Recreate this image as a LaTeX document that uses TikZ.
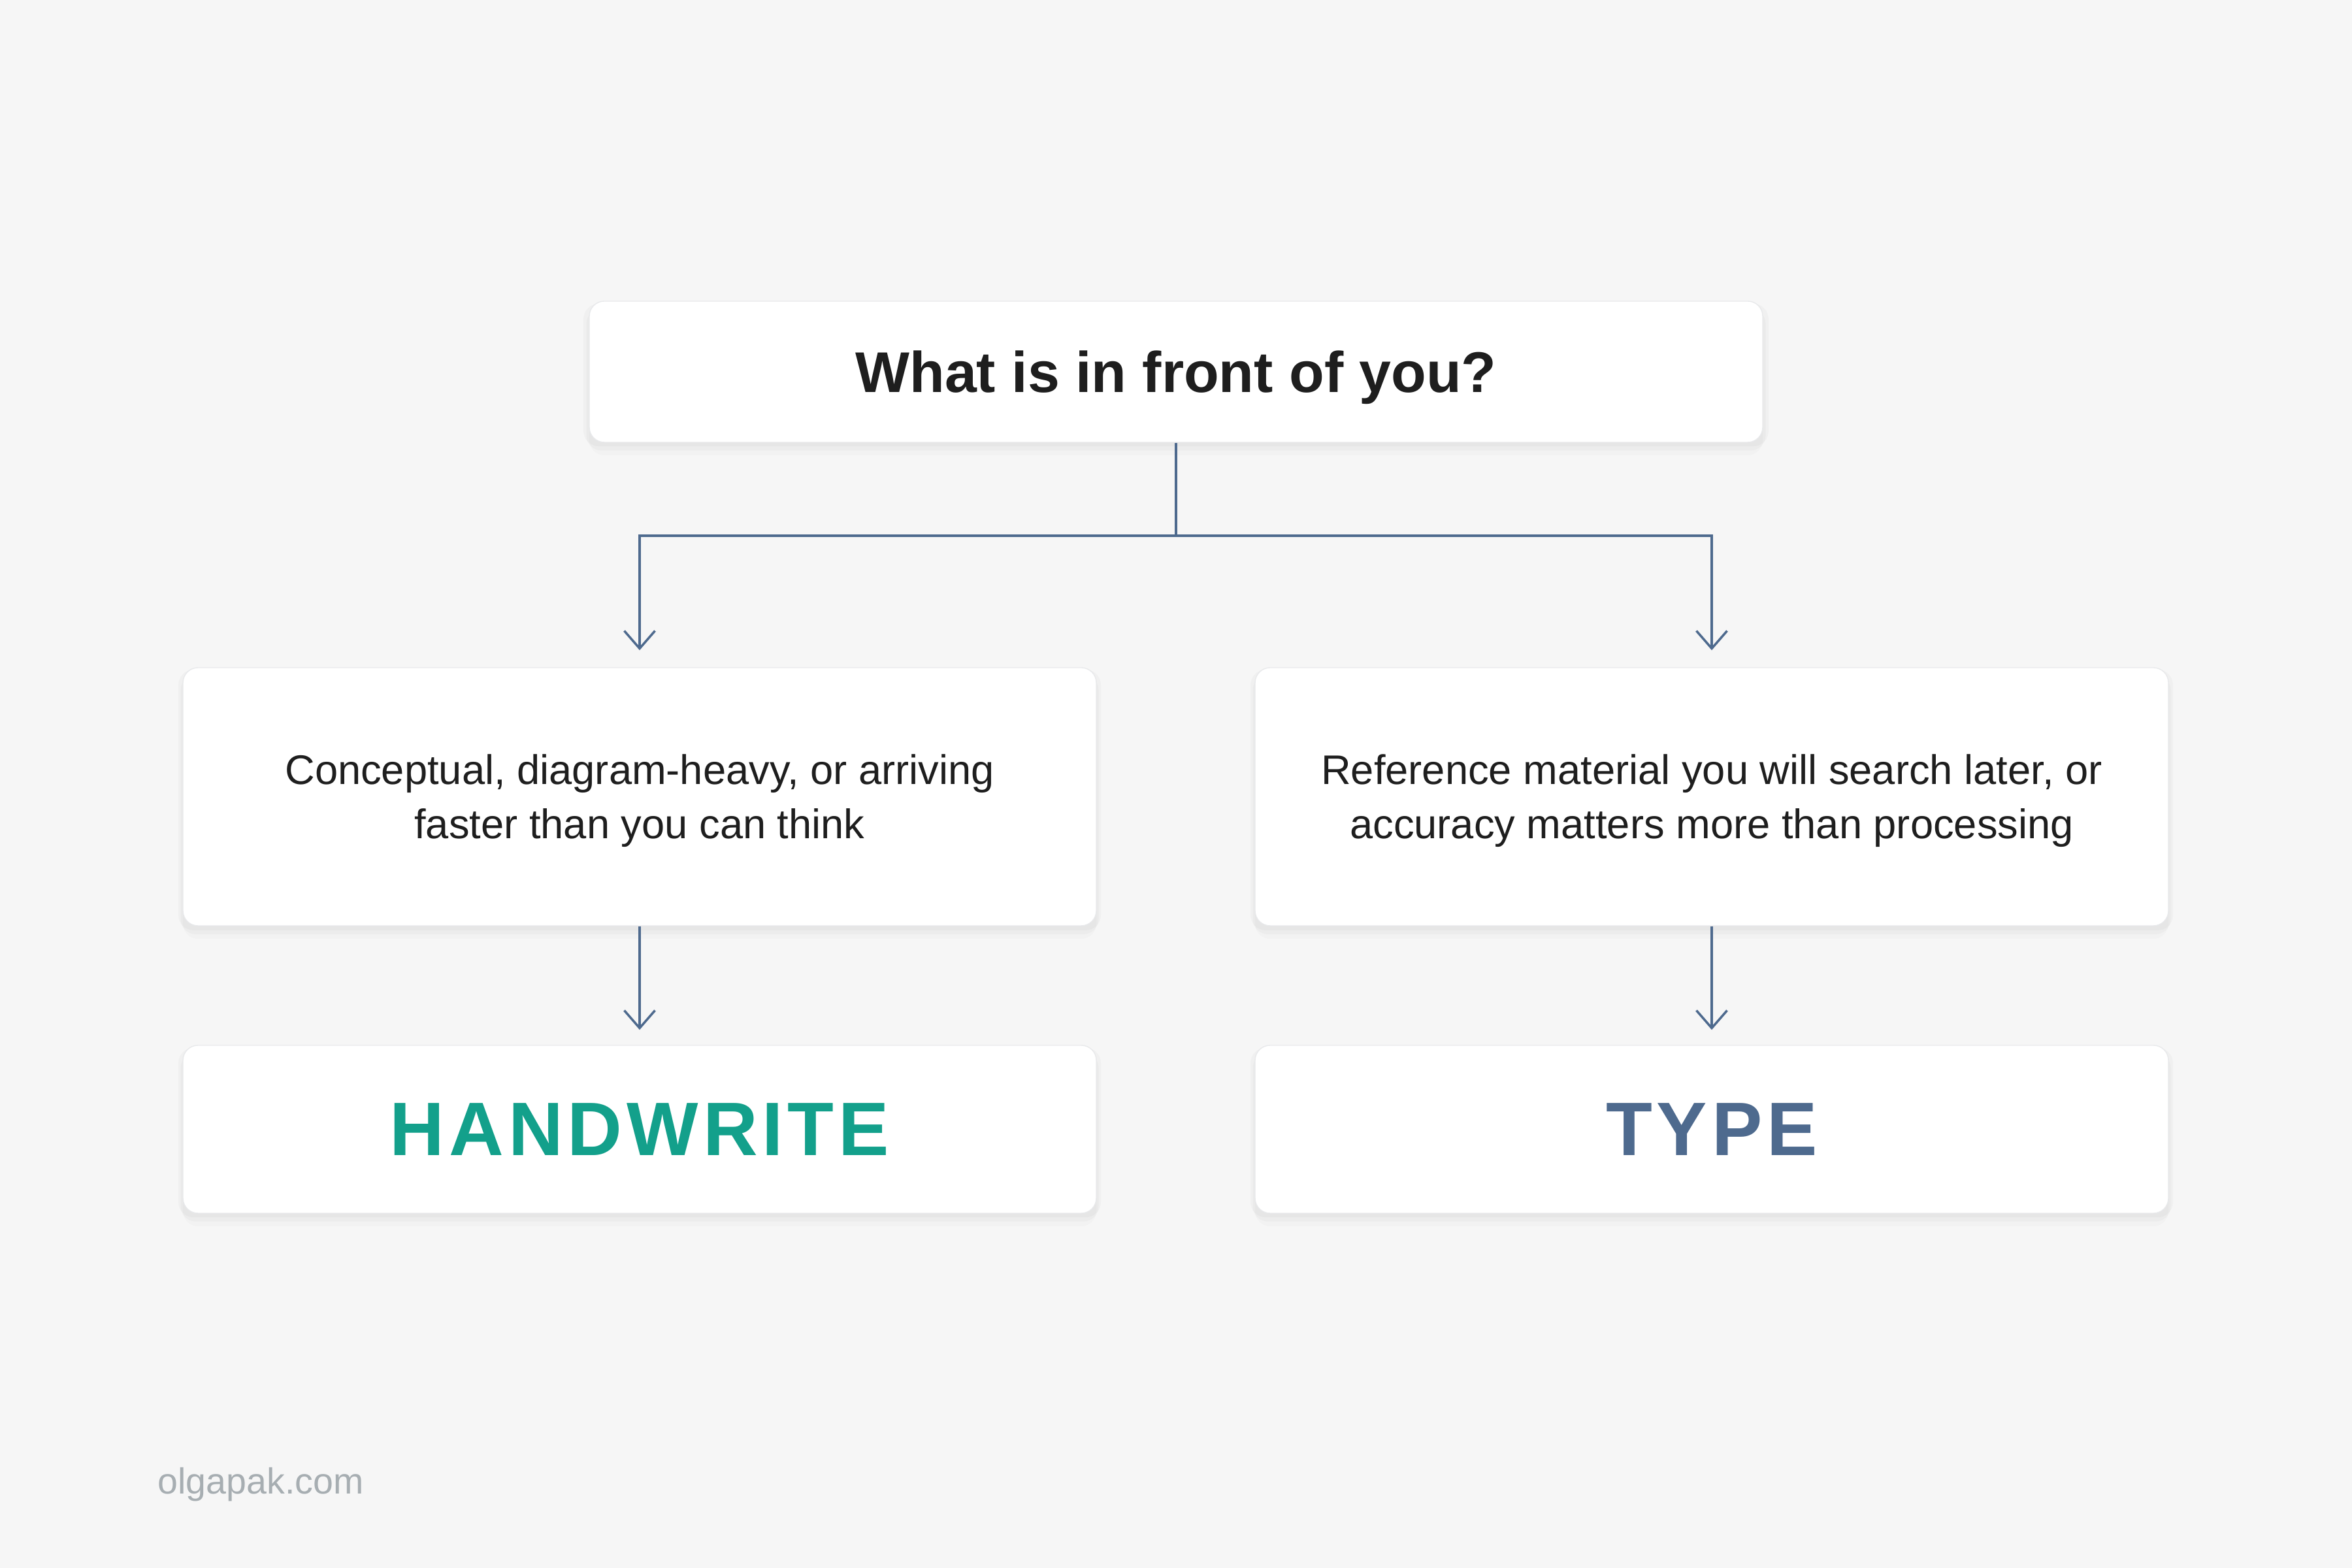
\documentclass[tikz,border=0pt]{standalone}
\usepackage{fontspec}
\setmainfont{Liberation Sans}
\newfontfamily\spacedfont[LetterSpace=6]{Liberation Sans}
\usepackage{tikz}
\usetikzlibrary{positioning}
\usetikzlibrary{shadows, arrows.meta}
\definecolor{bgcol}{HTML}{F6F6F6}
\definecolor{edgecol}{HTML}{E8E9EB}
\definecolor{linecol}{HTML}{4E6A8E}
\definecolor{tealcol}{HTML}{13A08B}
\definecolor{textcol}{HTML}{1E1E1E}
\definecolor{markcol}{HTML}{A7AEB2}
\tikzstyle{card} = [rectangle, rounded corners=0.23cm, draw=edgecol, line width=0.4pt, fill=white, drop shadow={shadow xshift=0cm, shadow yshift=-0.05cm, shadow scale=1.01, opacity=0.025, fill=black}, drop shadow={shadow xshift=0cm, shadow yshift=-0.12cm, shadow scale=1.005, opacity=0.025, fill=black}, drop shadow={shadow xshift=0cm, shadow yshift=-0.2cm, opacity=0.015, fill=black}, align=center, inner sep=0pt, text=textcol]
\tikzstyle{line} = [draw=linecol, line width=1pt]
\tikzstyle{arrow} = [line, -{Straight Barb[length=0.27cm, width=0.47cm]}]

\begin{document}
\begin{tikzpicture}
      \fill[bgcol] (0,0) rectangle (36,24);
      \useasboundingbox (0,0) rectangle (36,24);
      %%%%%%%%%%%%%%%%%%%%%%%%%%%%%%%%%%%%%%%
      \node[card, minimum width=17.96cm, minimum height=2.16cm, text depth=0pt, font=\fontsize{25}{30}\selectfont\bfseries] (q) at (18,18.31) {What is in front of you?};
      \node[card, minimum width=13.98cm, minimum height=3.95cm, text depth=0pt, font=\fontsize{18}{23.6}\selectfont] (c1) at (9.79,11.805) {Conceptual, diagram-heavy, or arriving\\faster than you can think};
      \node[card, minimum width=13.98cm, minimum height=3.95cm, text depth=0pt, font=\fontsize{18}{23.6}\selectfont] (c2) at (26.2,11.805) {Reference material you will search later, or\\accuracy matters more than processing};
      \node[card, minimum width=13.98cm, minimum height=2.57cm, font=\spacedfont\bfseries\fontsize{33}{40}\selectfont, text=tealcol] (hw) at (9.79,6.715) {HANDWRITE};
      \node[card, minimum width=13.98cm, minimum height=2.57cm, font=\spacedfont\bfseries\fontsize{33}{40}\selectfont, text=linecol] (ty) at (26.2,6.715) {TYPE};
      \node[anchor=west, inner sep=0pt, text=markcol, font=\fontsize{15.8}{19}\selectfont] (site) at (2.41,1.28) {olgapak.com};
      %%%%%%%%%%%%%%%%%%%%%%%%%%%%%%%%%%%%%%%
      \coordinate (split) at (18,15.8);
      \draw[line] (q.south)--(split);
      \draw[arrow, shorten >=0.26cm] (split) -| (c1.north);
      \draw[arrow, shorten >=0.26cm] (split) -| (c2.north);
      \draw[arrow, shorten >=0.23cm] (c1.south)--(hw.north);
      \draw[arrow, shorten >=0.23cm] (c2.south)--(ty.north);
\end{tikzpicture}
\end{document}
